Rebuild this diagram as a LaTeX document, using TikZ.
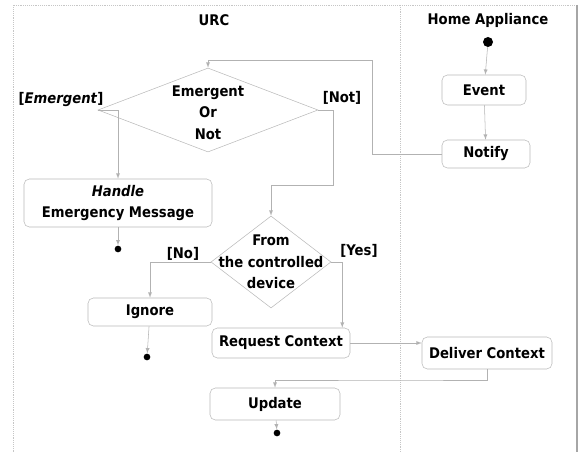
\documentclass[tikz,border=0pt]{standalone}
\usepackage{fontspec}
\setmainfont{DejaVu Sans Condensed}
\usetikzlibrary{arrows,calc,positioning,shapes.geometric}

\tikzset{
	act/.style 2 args={draw=gray!55, rounded corners=4pt, minimum width=#1, minimum height=#2, inner sep=1pt, align=center},
	dec/.style 2 args={draw=gray!55, diamond, minimum width=#1, minimum height=#2, inner sep=0pt},
	startdot/.style={circle, fill=black, inner sep=0pt, minimum size=7.5pt},
	enddot/.style={circle, fill=black, inner sep=0pt, minimum size=5pt},
	flow/.style={draw=gray!60, -latex},
	lane/.style={draw=gray!45}
}

\begin{document}
\begin{tikzpicture}[x=0.75pt, y=-0.75pt, font=\bfseries\fontsize{11}{16}\selectfont]
		\useasboundingbox (0,0) rectangle (582,452);
		% frame and swimlanes
		\draw[lane, densely dotted] (13,452) -- (13,5) -- (577,5);
		\draw[gray!70, line width=0.8pt] (577,5) -- (577,452);
		\draw[lane, densely dotted] (400,5) -- (400,452);
		\node (urc) at (214,20) {URC};
		\node (ha) at (488,20) {Home Appliance};
		% home appliance lane
		\node[startdot] (start) at (488,42) {};
		\node[act={63pt}{22.5pt}] (event) at (484,90) {Event};
		\node[act={66pt}{21pt}] (notify) at (486,154) {Notify};
		\node[act={97.5pt}{24pt}] (dc) at (487,353) {Deliver Context};
		% urc lane
		\node[dec={165pt}{63pt}] (d1) at (208,110) {};
		\node[align=center] at ([yshift=-2pt]d1) {Emergent\\Or\\Not};
		\node[act={141pt}{36pt}] (hem) at (118,203) {\textit{Handle}\\Emergency Message};
		\node[enddot] (e1) at (118,249) {};
		\node[dec={90pt}{69pt}] (d2) at (271,262) {};
		\node[align=center] at (d2) {From\\the controlled\\device};
		\node[act={93pt}{21pt}] (ignore) at (150,312) {Ignore};
		\node[enddot] (e2) at (147,357) {};
		\node[act={103.5pt}{22.5pt}] (rc) at (281,343) {Request Context};
		\node[act={97.5pt}{24pt}] (up) at (275,404) {Update};
		\node[enddot] (e3) at (277,433) {};
		% guards
		\node (lemergent) at (61,100) {[\textit{Emergent}]};
		\node (lnot) at (342,98) {[Not]};
		\node (lno) at (183,254) {[No]};
		\node (lyes) at (359,251) {[Yes]};
		% bends
		\coordinate (c1) at (372,60);
		\coordinate (c2) at (333,185);
		\coordinate (c3) at (400,380);
		% flows
		\draw[flow] (start) -- (event);
		\draw[flow] (event) -- (notify);
		\draw[flow] (notify.west) -| (c1) -| (d1.north);
		\draw[flow] (d1.west) -| (hem.north);
		\draw[flow] (d1.east) -| (c2) -| (d2.north);
		\draw[flow] (hem) -- (e1);
		\draw[flow] (d2.west) -| (ignore.north);
		\draw[flow] (d2.east) -| ([xshift=-6pt]rc.north east);
		\draw[flow] (ignore) -- (e2);
		\draw[flow] (rc.east) -- (rc.east -| dc.west);
		\draw[flow] (dc.south) |- (c3) -| (up.north);
		\draw[flow] (up) -- (e3);
		\end{tikzpicture}
\end{document}
